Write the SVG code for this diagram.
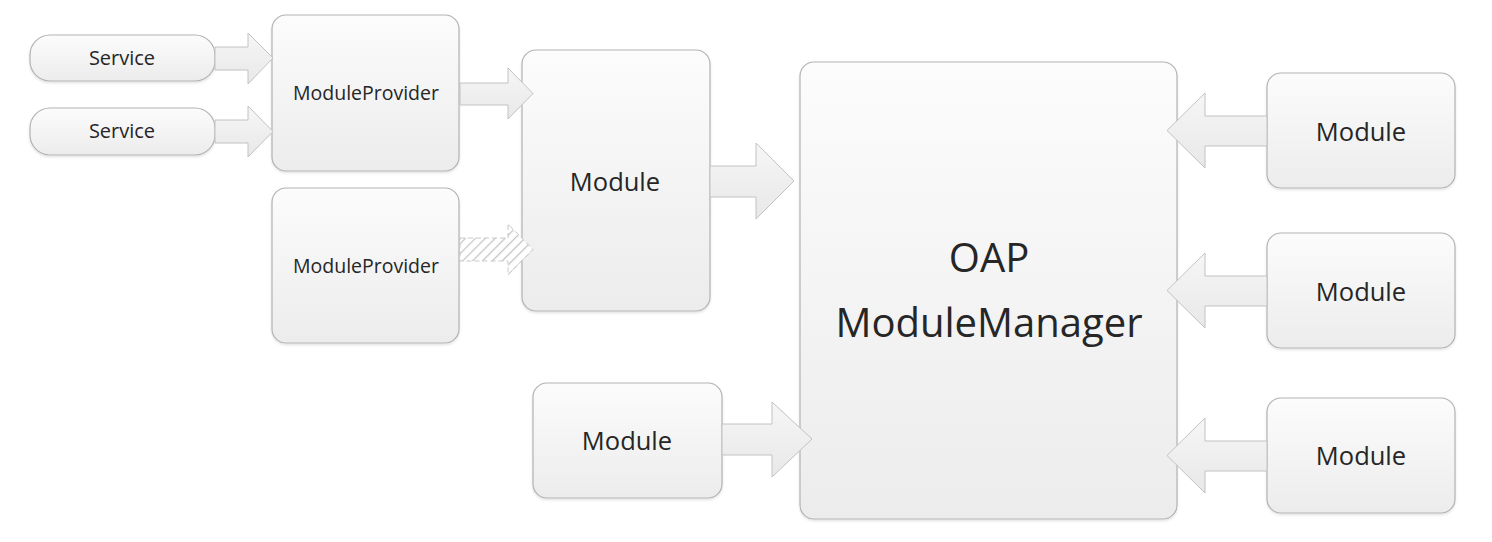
<svg xmlns="http://www.w3.org/2000/svg" width="1492" height="542" viewBox="0 0 1492 542">
  <defs>
    <linearGradient id="boxGrad" x1="0" y1="0" x2="0" y2="1">
      <stop offset="0" stop-color="#fcfcfc"/>
      <stop offset="1" stop-color="#ececec"/>
    </linearGradient>
    <linearGradient id="arrowGrad" x1="0" y1="0" x2="0" y2="1">
      <stop offset="0" stop-color="#f6f6f6"/>
      <stop offset="1" stop-color="#e8e8e8"/>
    </linearGradient>
    <pattern id="hatch" patternUnits="userSpaceOnUse" width="7" height="7" patternTransform="rotate(45)">
      <rect width="7" height="7" fill="#ffffff"/>
      <line x1="0" y1="0" x2="0" y2="7" stroke="#c4c4c4" stroke-width="2.5"/>
    </pattern>
    <filter id="shadow" x="-10%" y="-10%" width="120%" height="125%">
      <feDropShadow dx="0" dy="1.5" stdDeviation="1.2" flood-color="#000" flood-opacity="0.12"/>
    </filter>
  </defs>
  <style>
    .box { fill: url(#boxGrad); stroke: #b3b3b3; stroke-width: 1.2; filter: url(#shadow); }
    .arrow { fill: url(#arrowGrad); stroke: #c2c2c2; stroke-width: 1; stroke-linejoin: miter; }
    .hatched { fill: url(#hatch); stroke: #c8c8c8; stroke-width: 1; stroke-dasharray: 5 3; }
    .lbl { font-family: "Open Sans", "Liberation Sans", sans-serif; fill: #262626; text-anchor: middle; }
    .s20 { font-size: 20px; }
    .s19 { font-size: 19.5px; }
    .s25 { font-size: 25.5px; }
    .s40 { font-size: 40px; }
  </style>
  <rect width="1492" height="542" fill="#ffffff"/>

  <g id="service1">
    <rect class="box" x="30" y="35" width="185" height="46" rx="20" ry="20"/>
    <text class="lbl s20" x="122" y="65">Service</text>
  </g>
  <g id="service2">
    <rect class="box" x="30" y="108" width="185" height="47" rx="20" ry="20"/>
    <text class="lbl s20" x="122" y="138">Service</text>
  </g>
  <g id="moduleProvider1">
    <rect class="box" x="272" y="15" width="187" height="156" rx="14" ry="14"/>
    <text class="lbl s19" x="366" y="100">ModuleProvider</text>
  </g>
  <g id="moduleProvider2">
    <rect class="box" x="272" y="188" width="187" height="155" rx="14" ry="14"/>
    <text class="lbl s19" x="366" y="273">ModuleProvider</text>
  </g>
  <g id="moduleCenter">
    <rect class="box" x="522" y="50" width="188" height="261" rx="14" ry="14"/>
    <text class="lbl s25" x="615" y="191">Module</text>
  </g>
  <g id="moduleBottom">
    <rect class="box" x="533" y="383" width="189" height="115" rx="14" ry="14"/>
    <text class="lbl s25" x="627" y="450">Module</text>
  </g>
  <g id="oapModuleManager">
    <rect class="box" x="800" y="62" width="377" height="457" rx="14" ry="14"/>
    <text class="lbl s40" x="989" y="272">OAP</text>
    <text class="lbl s40" x="989" y="337">ModuleManager</text>
  </g>
  <g id="moduleRight1">
    <rect class="box" x="1267" y="73" width="188" height="115" rx="14" ry="14"/>
    <text class="lbl s25" x="1361" y="141">Module</text>
  </g>
  <g id="moduleRight2">
    <rect class="box" x="1267" y="233" width="188" height="115" rx="14" ry="14"/>
    <text class="lbl s25" x="1361" y="301">Module</text>
  </g>
  <g id="moduleRight3">
    <rect class="box" x="1267" y="398" width="188" height="115" rx="14" ry="14"/>
    <text class="lbl s25" x="1361" y="465">Module</text>
  </g>

  <g id="connectors">
    <polygon class="arrow" points="215,47 248,47 248,33 273,58 248,84 248,70 215,70"/>
    <polygon class="arrow" points="215,120 248,120 248,106 273,131.5 248,157 248,143 215,143"/>
    <polygon class="arrow" points="460,83 508,83 508,68 533,93.5 508,119 508,105 460,105"/>
    <polygon class="hatched" points="460,238 508,238 508,224 533,249.5 508,275 508,261 460,261"/>
    <polygon class="arrow" points="710,166 756,166 756,143 794,181 756,219 756,197 710,197"/>
    <polygon class="arrow" points="722,424 772,424 772,402 812,439 772,477 772,455 722,455"/>
    <polygon class="arrow" points="1267,116 1205,116 1205,93 1167,130.5 1205,168 1205,146 1267,146"/>
    <polygon class="arrow" points="1267,276 1205,276 1205,253 1167,290.5 1205,328 1205,306 1267,306"/>
    <polygon class="arrow" points="1267,441 1205,441 1205,418 1167,455.5 1205,493 1205,471 1267,471"/>
  </g>
</svg>
